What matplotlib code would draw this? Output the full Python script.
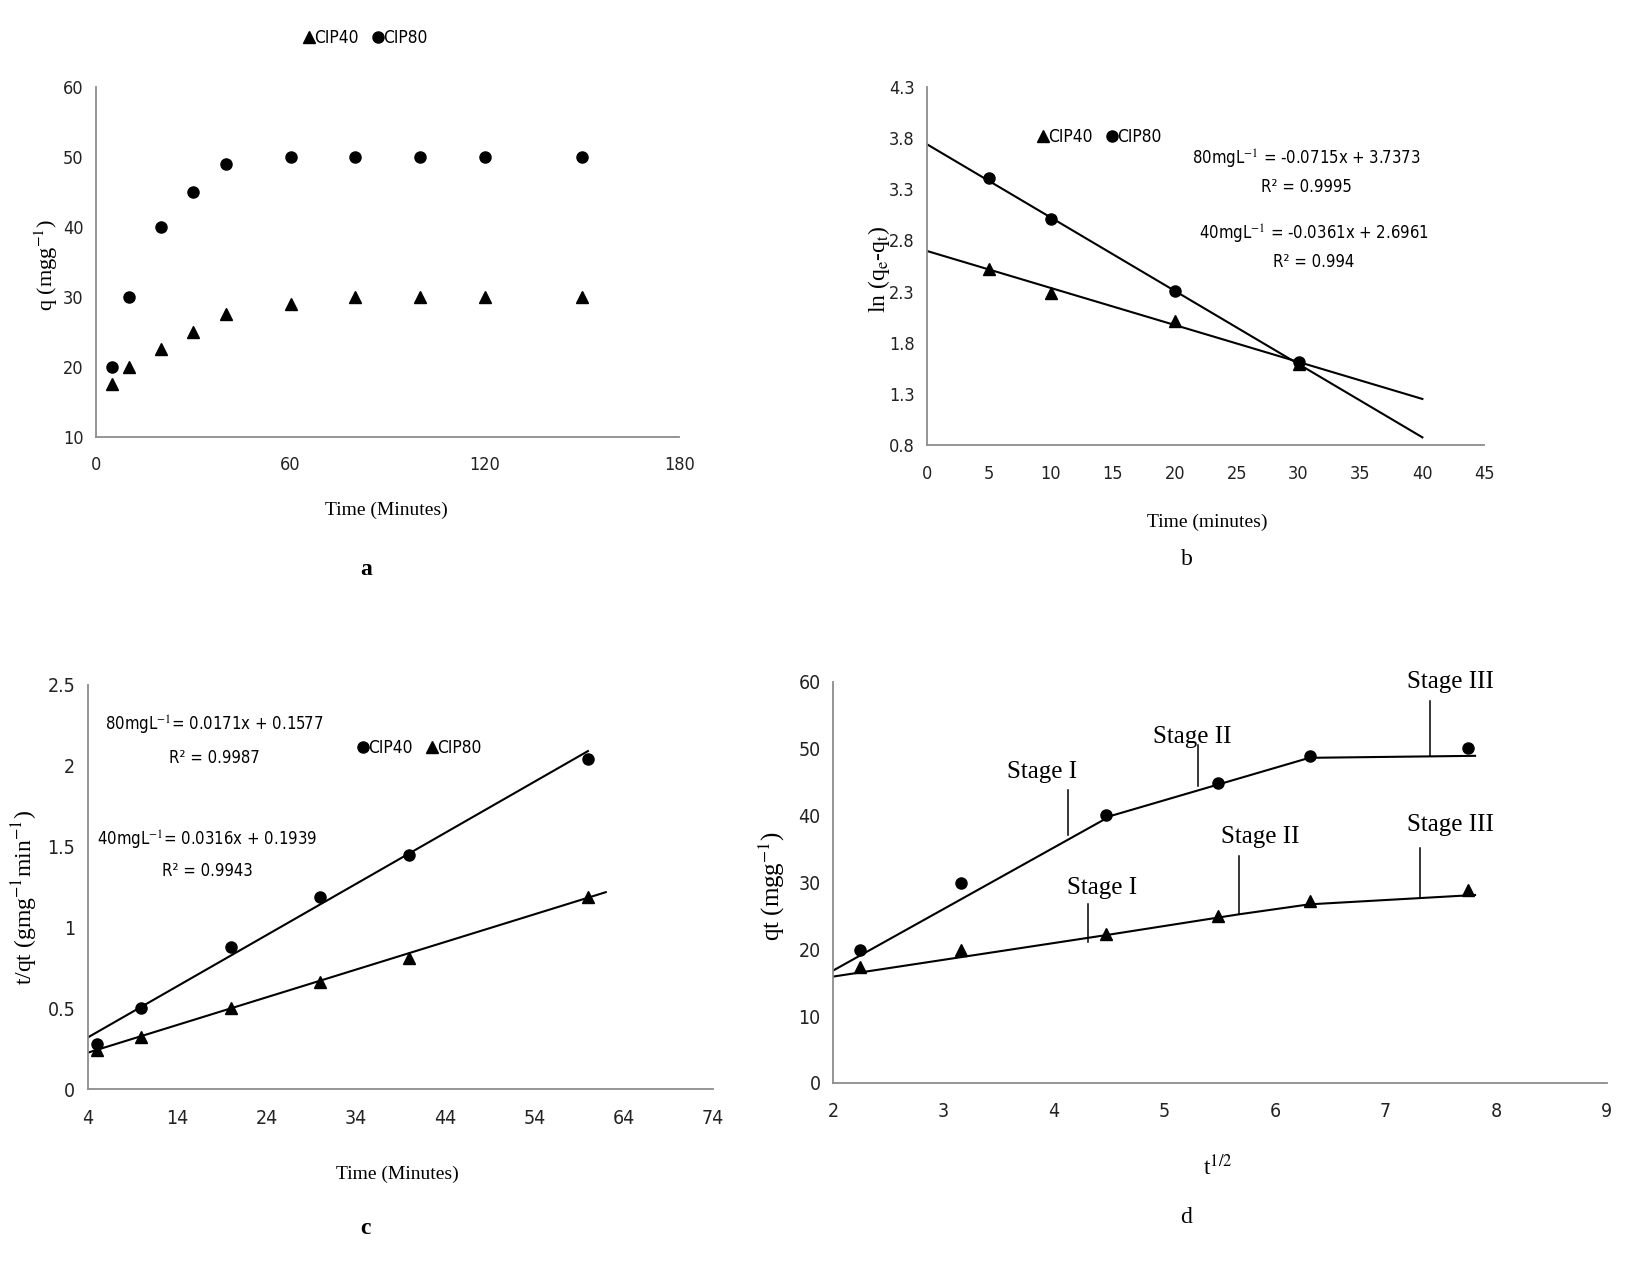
import matplotlib
matplotlib.use("Agg")
import matplotlib.pyplot as plt
from matplotlib import font_manager
from matplotlib.lines import Line2D
import numpy as np

# ---------------- data ----------------
# panel a : uptake vs time
time_a = [5, 10, 20, 30, 40, 60, 80, 100, 120, 150]
q_cip40_a = [17.5, 20, 22.5, 25, 27.5, 29, 30, 30, 30, 30]
q_cip80_a = [20, 30, 40, 45, 49, 50, 50, 50, 50, 50]

# panel b : pseudo-first order
time_b = [5, 10, 20, 30]
ln_cip40_b = [2.52, 2.29, 2.01, 1.59]
ln_cip80_b = [3.41, 3.01, 2.31, 1.61]
fit_x_b = [0, 40]
slope80_b, icpt80_b = -0.0715, 3.7373
slope40_b, icpt40_b = -0.0361, 2.6961

# panel c : pseudo-second order
time_c = [5, 10, 20, 30, 40, 60]
tq_cip40_c = [0.28, 0.50, 0.88, 1.19, 1.45, 2.04]
tq_cip80_c = [0.24, 0.32, 0.50, 0.66, 0.81, 1.19]
fit_upper_c = (0.0316, 0.1939, [4, 60])
fit_lower_c = (0.0171, 0.1577, [4, 62])

# panel d : intraparticle diffusion
sqrt_t_d = [2.24, 3.16, 4.47, 5.48, 6.32, 7.75]
qt_circ_d = [19.9, 29.9, 40.0, 44.8, 48.8, 50.0]
qt_tri_d = [17.3, 19.9, 22.3, 24.9, 27.2, 28.9]
stage_line_circ_x = [2.0, 4.51, 6.31, 7.81]
stage_line_circ_y = [16.8, 39.9, 48.6, 48.9]
stage_line_tri_x = [2.0, 4.51, 5.67, 6.31, 7.81]
stage_line_tri_y = [15.9, 22.2, 25.2, 26.7, 28.1]

# ---------------- fonts ----------------
entries = font_manager.fontManager.ttflist
names = {f.name for f in entries}
SANS = "DejaVu Sans"
STRETCH = "normal"
if "Liberation Sans Narrow" in names:
    SANS = "Liberation Sans Narrow"
elif any(f.name == "DejaVu Sans" and "Condensed" in f.fname for f in entries):
    SANS, STRETCH = "DejaVu Sans", "condensed"
elif "Liberation Sans" in names:
    SANS = "Liberation Sans"
SERIF = "Liberation Serif" if "Liberation Serif" in names else "DejaVu Serif"
plt.rcParams["mathtext.fontset"] = "stix"
plt.rcParams["font.family"] = [SANS, "DejaVu Sans"]
plt.rcParams["font.stretch"] = STRETCH

W, H = 1639, 1261
fig = plt.figure(figsize=(W / 100, H / 100), dpi=100)
fig.patch.set_facecolor("white")

SPINE = "#8c8c8c"
LABFS = 14


def style(ax, xlim, ylim, xticks, yticks, yticklabels=None, fs=13):
    ax.set_xlim(*xlim)
    ax.set_ylim(*ylim)
    ax.set_xticks(xticks)
    ax.set_yticks(yticks)
    if yticklabels is not None:
        ax.set_yticklabels(yticklabels)
    for s in ("top", "right"):
        ax.spines[s].set_visible(False)
    for s in ("left", "bottom"):
        ax.spines[s].set_color(SPINE)
        ax.spines[s].set_linewidth(1.3)
    ax.tick_params(axis="both", length=0, labelsize=fs, colors="#222222")
    ax.tick_params(axis="x", pad=14)
    ax.tick_params(axis="y", pad=9)
    for lab in ax.get_xticklabels() + ax.get_yticklabels():
        lab.set_family([SANS, "DejaVu Sans"])
        lab.set_stretch(STRETCH)


def legend(ax, handles, labels, center):
    leg = ax.legend(handles, labels, loc="center", bbox_to_anchor=(center[0] / W, 1 - center[1] / H),
                    bbox_transform=fig.transFigure, ncol=2, frameon=False, handlelength=0.5,
                    handletextpad=0.05, columnspacing=0.9, fontsize=12.5, borderpad=0)
    return leg


tri = dict(marker="^", color="black", ms=8, linestyle="none")
circ = dict(marker="o", color="black", ms=8, linestyle="none")
h_tri = Line2D([], [], **tri)
h_circ = Line2D([], [], **circ)
eqfs = 12

# ---------------- panel a ----------------
axa = fig.add_axes([0.0587, 0.6535, 0.3558, 0.2776])
axa.plot(time_a, q_cip40_a, **tri)
axa.plot(time_a, q_cip80_a, **circ)
style(axa, (0, 180), (10, 60), [0, 60, 120, 180], range(10, 61, 10), fs=13)
axa.set_xlabel("Time (Minutes)", family=SERIF, fontsize=LABFS)
axa.xaxis.set_label_coords(0.498, -0.186)
axa.set_ylabel(r"q (mgg$^{-1}$)", family=SERIF, fontsize=16)
axa.yaxis.set_label_coords(-0.062, 0.49)
legend(axa, [h_tri, h_circ], ["CIP40", "CIP80"], (366, 38))
fig.text(0.2232, 0.5482, "a", family=SERIF, fontsize=17, fontweight="bold", ha="center", va="center")

# ---------------- panel b ----------------
axb = fig.add_axes([0.5657, 0.6469, 0.3399, 0.2843])
xb = np.array(fit_x_b, dtype=float)
axb.plot(xb, slope80_b * xb + icpt80_b, color="black", lw=1.5)
axb.plot(xb, slope40_b * xb + icpt40_b, color="black", lw=1.5)
axb.plot(time_b, ln_cip40_b, **tri)
axb.plot(time_b, ln_cip80_b, **circ)
yt_b = np.arange(0.8, 4.31, 0.5)
style(axb, (0, 45), (0.8, 4.3), range(0, 46, 5), yt_b, [f"{v:.1f}" for v in yt_b], fs=13)
axb.set_xlabel("Time (minutes)", family=SERIF, fontsize=LABFS)
axb.xaxis.set_label_coords(0.502, -0.192)
axb.set_ylabel(r"ln (q$_\mathrm{e}$-q$_\mathrm{t}$)", family=SERIF, fontsize=17)
axb.yaxis.set_label_coords(-0.063, 0.49)
legend(axb, [h_tri, h_circ], ["CIP40", "CIP80"], (1100, 137))
axb.text(30.6, 3.59, r"80mgL$^{-1}$ = -0.0715x + 3.7373", ha="center", va="center", fontsize=eqfs)
axb.text(30.6, 3.32, "R² = 0.9995", ha="center", va="center", fontsize=eqfs)
axb.text(31.2, 2.86, r"40mgL$^{-1}$ = -0.0361x + 2.6961", ha="center", va="center", fontsize=eqfs)
axb.text(31.2, 2.59, "R² = 0.994", ha="center", va="center", fontsize=eqfs)
fig.text(0.7239, 0.5565, "b", family=SERIF, fontsize=17, ha="center", va="center")

# ---------------- panel c ----------------
axc = fig.add_axes([0.0536, 0.1362, 0.3814, 0.3208])
for slope, icpt, rng in (fit_upper_c, fit_lower_c):
    xx = np.array(rng, dtype=float)
    axc.plot(xx, slope * xx + icpt, color="black", lw=1.5)
axc.plot(time_c, tq_cip40_c, **circ)
axc.plot(time_c, tq_cip80_c, **tri)
style(axc, (4, 74), (0, 2.5), range(4, 75, 10), np.arange(0, 2.51, 0.5),
      ["0", "0.5", "1", "1.5", "2", "2.5"], fs=14)
axc.set_xlabel("Time (Minutes)", family=SERIF, fontsize=LABFS)
axc.xaxis.set_label_coords(0.495, -0.188)
axc.set_ylabel(r"t/qt (gmg$^{-1}$min$^{-1}$)", family=SERIF, fontsize=17)
axc.yaxis.set_label_coords(-0.076, 0.475)
legend(axc, [h_circ, h_tri], ["CIP40", "CIP80"], (420, 748))
axc.text(18.2, 2.25, r"80mgL$^{-1}$= 0.0171x + 0.1577", ha="center", va="center", fontsize=eqfs)
axc.text(18.2, 2.05, "R² = 0.9987", ha="center", va="center", fontsize=eqfs)
axc.text(17.4, 1.54, r"40mgL$^{-1}$= 0.0316x + 0.1939", ha="center", va="center", fontsize=eqfs)
axc.text(17.4, 1.35, "R² = 0.9943", ha="center", va="center", fontsize=eqfs)
fig.text(0.2232, 0.0260, "c", family=SERIF, fontsize=17, fontweight="bold", ha="center", va="center")

# ---------------- panel d ----------------
axd = fig.add_axes([0.5083, 0.1412, 0.4719, 0.3183])
axd.plot(stage_line_circ_x, stage_line_circ_y, color="black", lw=1.5)
axd.plot(stage_line_tri_x, stage_line_tri_y, color="black", lw=1.5)
axd.plot(sqrt_t_d, qt_circ_d, **circ)
axd.plot(sqrt_t_d, qt_tri_d, **tri)
style(axd, (2, 9), (0, 60), range(2, 10), range(0, 61, 10), fs=14)
axd.set_xlabel(r"t$^{1/2}$", family=SERIF, fontsize=17)
axd.xaxis.set_label_coords(0.498, -0.179)
axd.set_ylabel(r"qt (mgg$^{-1}$)", family=SERIF, fontsize=18)
axd.yaxis.set_label_coords(-0.059, 0.49)
stages = [
    ("Stage I", 3.89, 46.5, 4.13, 43.8, 37.1),
    ("Stage II", 5.25, 51.7, 5.30, 50.5, 44.4),
    ("Stage III", 7.59, 60.0, 7.40, 57.1, 48.9),
    ("Stage I", 4.43, 29.2, 4.31, 26.7, 21.0),
    ("Stage II", 5.87, 36.8, 5.67, 34.0, 25.2),
    ("Stage III", 7.59, 38.6, 7.31, 35.1, 27.7),
]
for txt, tx, ty, lx, ly0, ly1 in stages:
    axd.text(tx, ty, txt, family=SERIF, fontsize=18, ha="center", va="center", clip_on=False)
    axd.plot([lx, lx], [ly0, ly1], color="black", lw=1.1, clip_on=False)
fig.text(0.7239, 0.0343, "d", family=SERIF, fontsize=17, ha="center", va="center")

fig.savefig("out.png", dpi=100, facecolor="white")
